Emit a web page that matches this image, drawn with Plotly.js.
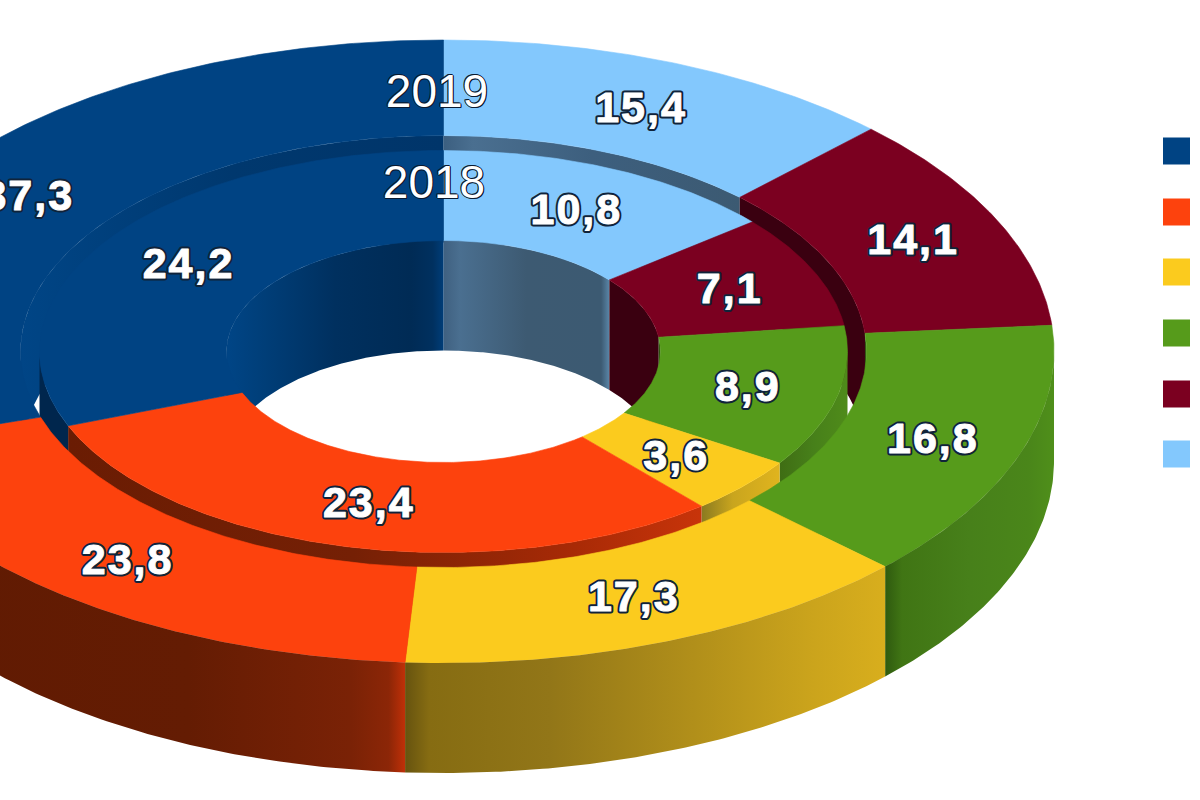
<!DOCTYPE html>
<html>
<head>
<meta charset="utf-8">
<script src="https://cdn.plot.ly/plotly-3.0.1.min.js"></script>
<style>
html,body{margin:0;padding:0;background:#fff}#chart{width:1200px;height:800px}
#chart .vallabels .textpoint text{letter-spacing:2px;stroke-linejoin:round}
#chart .vallabels.under .textpoint text{stroke:#10233a;stroke-width:5px}
#chart .vallabels.over .textpoint text{stroke:#fff;stroke-width:1px}
</style>
</head>
<body>
<div id="chart"></div>
<script>
// Series run clockwise from 12 o'clock: light blue, maroon, green, yellow, red, blue
const values2019 = [15.4, 14.1, 16.8, 17.3, 23.8, 37.3];
const values2018 = [10.8, 7.1, 8.9, 3.6, 23.4, 24.2];
const years = ['2019', '2018'];
const colors = ['#83c8fd', '#7b0020', '#569b1b', '#fbcb1e', '#fd420d', '#004383'];
const legendColors = ['#004383', '#fd420d', '#fbcb1e', '#569b1b', '#7b0020', '#83c8fd'];

// shaded walls, one gradient per series (left to right on screen)
const outerFrontWall = [
  null, null,
  [[0,'#2f5a0f'],[0.1,'#407514'],[0.5,'#47801a'],[0.85,'#4a861a'],[1,'#4f8f1a']],
  [[0,'#66530f'],[0.05,'#866c12'],[0.3,'#927618'],[0.6,'#b18f1a'],[0.85,'#cba41c'],[1,'#d8ae1d']],
  [[0,'#5f1a02'],[0.6,'#641c03'],[0.9,'#7a2206'],[0.97,'#8c2607'],[1,'#c03008']],
  [[0,'#002c55'],[1,'#002c55']]
];
const innerFrontWall = [
  null, null,
  [[0,'#3f6d14'],[0.5,'#47801a'],[1,'#4f8b1a']],
  [[0,'#8a7a20'],[0.4,'#c9a51e'],[1,'#e0b41e']],
  [[0,'#6a1c03'],[0.45,'#752005'],[0.8,'#a82a06'],[1,'#c8340a']],
  [[0,'#00264d'],[1,'#00264d']]
];
const holeBackWall = [
  [[0,'#3f6080'],[0.1,'#4a6f90'],[0.5,'#3d5a72'],[0.95,'#3c5a72'],[1,'#5a86a8']],
  [[0,'#3a0010'],[1,'#3a0010']],
  [[0,'#2c5010'],[1,'#2c5010']],
  null, null,
  [[0,'#004586'],[0.15,'#003f7a'],[0.5,'#00305f'],[0.85,'#002b55'],[0.95,'#00305f'],[1,'#003d78']]
];
const channelBackWall = [
  [[0,'#3c5f80'],[0.1,'#4a6f90'],[0.5,'#3d5f7e'],[1,'#3c5a72']],
  [[0,'#3a0010'],[1,'#3a0010']],
  [[0,'#2c5010'],[1,'#2c5010']],
  null, null,
  [[0,'#004586'],[0.5,'#00386e'],[1,'#00356a']]
];

// ring geometry in pixels of the 1200x800 axes
const cx = 443.5, cy = 351.5;
const outer = {rx: 610.5, ry: 311.5};
const channel = {rx: 423, ry: 216};
const middle = {rx: 404, ry: 201};
const hole = {rx: 217, ry: 111};
const depth = 110, channelDepth = 107;

function spans(vals) {
  const total = vals.reduce((a, b) => a + b, 0);
  let s = 0;
  return vals.map(v => { const a = s / total * 360; s += v; return [a, s / total * 360]; });
}
function pt(e, deg, dy) {
  const t = deg * Math.PI / 180;
  return [cx + e.rx * Math.sin(t), cy - e.ry * Math.cos(t) + (dy || 0)];
}
function arc(e, a, b, dy) {
  const n = Math.max(2, Math.ceil(Math.abs(b - a) * 2)), out = [];
  for (let i = 0; i <= n; i++) out.push(pt(e, a + (b - a) * i / n, dy));
  return out;
}
function poly(points, extra) {
  return Object.assign({
    type: 'scatter', mode: 'lines', x: points.map(p => p[0]), y: points.map(p => p[1]),
    fill: 'toself', line: {width: 0}, hoverinfo: 'skip', showlegend: false
  }, extra);
}
function surface(e1, e2, vals) {
  return spans(vals).map((sp, i) => {
    const pts = arc(e1, sp[0], sp[1]).concat(arc(e2, sp[1], sp[0]));
    pts.push(pts[0]);
    return poly(pts, {fillcolor: colors[i], line: {width: 0.6, color: colors[i]}});
  });
}
function wall(e, d, vals, ranges, grads) {
  const out = [];
  spans(vals).forEach((sp, i) => {
    ranges.forEach(r => {
      const a = Math.max(sp[0], r[0]), b = Math.min(sp[1], r[1]);
      if (b <= a || !grads[i]) return;
      const pts = arc(e, a, b).concat(arc(e, b, a, d));
      pts.push(pts[0]);
      out.push(poly(pts, {fillgradient: {type: 'horizontal', colorscale: grads[i]}}));
    });
  });
  return out;
}
function labelTrace(vals, e1, e2) {
  const mid = {rx: (e1.rx + e2.rx) / 2, ry: (e1.ry + e2.ry) / 2};
  const p = spans(vals).map(sp => pt(mid, (sp[0] + sp[1]) / 2, 3.5));
  return {
    type: 'scatter', mode: 'text', x: p.map(q => q[0] + 2), y: p.map(q => q[1]),
    text: vals.map(v => v.toFixed(1).replace('.', ',')), textposition: 'middle center',
    textfont: {family: 'Liberation Sans', size: 43, color: '#fff', weight: 700},
    hoverinfo: 'skip', showlegend: false
  };
}

const back = [[0, 90], [270, 360]];
const front = [[90, 270]];
const yo = '#0a1a30';
const traces = [].concat(
  wall(channel, channelDepth, values2019, back, channelBackWall),
  wall(middle, depth, values2018, front, innerFrontWall),
  wall(hole, depth, values2018, back, holeBackWall),
  surface(middle, hole, values2018),
  surface(outer, channel, values2019),
  wall(outer, depth, values2019, front, outerFrontWall),
  [labelTrace(values2019, outer, channel), labelTrace(values2019, outer, channel),
   labelTrace(values2018, middle, hole), labelTrace(values2018, middle, hole)],
  [{
    type: 'scatter', mode: 'text', x: [437, 434], y: [95.5, 186.5], text: years,
    textposition: 'middle center',
    textfont: {family: 'Liberation Sans', size: 46, color: '#fff',
      shadow: `1px 0 0 ${yo},-1px 0 0 ${yo},0 1px 0 ${yo},0 -1px 0 ${yo},1px 1px 0 ${yo},-1px -1px 0 ${yo}`},
    hoverinfo: 'skip', showlegend: false
  }, {
    type: 'scatter', mode: 'markers',
    x: legendColors.map(() => 1176.5), y: [151, 212, 272, 333, 394, 454],
    marker: {symbol: 'square', size: 27, color: legendColors, line: {width: 0}},
    hoverinfo: 'skip', showlegend: false
  }]
);

Plotly.newPlot('chart', traces, {
  width: 1200, height: 800, margin: {l: 0, r: 0, t: 0, b: 0},
  paper_bgcolor: '#fff', plot_bgcolor: '#fff', showlegend: false,
  xaxis: {range: [0, 1200], visible: false, fixedrange: true},
  yaxis: {range: [800, 0], visible: false, fixedrange: true}
}, {displayModeBar: false, staticPlot: true}).then(gd => {
  // each value label is drawn twice: a dark outline under a slightly heavier white glyph
  let n = 0;
  gd.querySelectorAll('.scatterlayer .trace.scatter').forEach(g => {
    const t = g.querySelector('.textpoint text');
    if (t && /,/.test(t.textContent)) {
      g.classList.add('vallabels', n % 2 === 0 ? 'under' : 'over');
      n++;
    }
  });
});
</script>
</body>
</html>
